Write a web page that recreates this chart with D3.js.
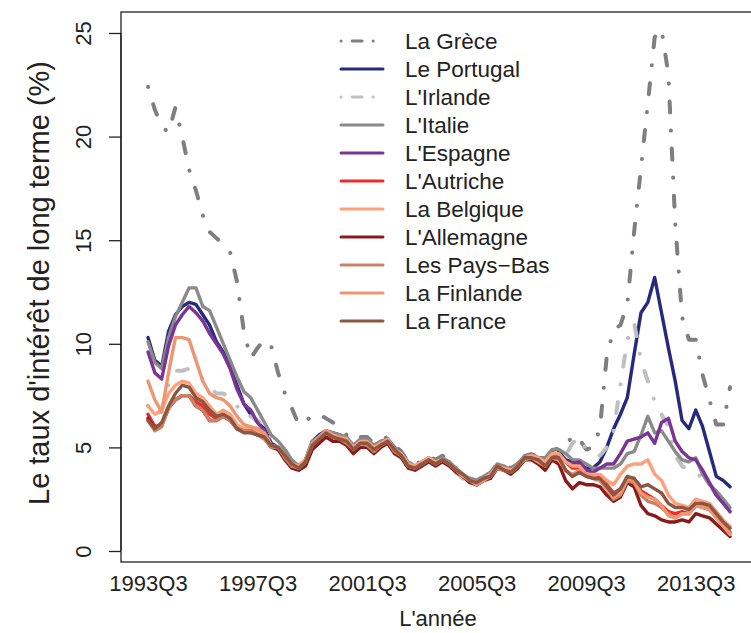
<!DOCTYPE html>
<html><head><meta charset="utf-8">
<script src="https://cdn.jsdelivr.net/npm/d3@7"></script>
<style>
html,body{margin:0;padding:0;background:#fff;}
svg{display:block;font-family:"Liberation Sans",Arial,Helvetica,sans-serif;}
</style>
</head><body>
<svg id="chart" width="751" height="633"></svg>
<script>
// Quarters 1993Q3 .. 2014Q4 (86 points)
const quarters = [];
for (let yr = 1993; yr <= 2014; yr++) for (let q = 1; q <= 4; q++) {
  if (yr === 1993 && q < 3) continue;
  quarters.push(yr + "Q" + q);
}
const xTickLabels = ["1993Q3","1997Q3","2001Q3","2005Q3","2009Q3","2013Q3"];
const yTicks = [0,5,10,15,20,25];

const greece = [22.4,21.3,20.5,20.2,21.4,20.0,18.4,17.4,16.2,15.4,
 15.1,14.8,14.4,13.0,10.6,9.3,9.8,10.2,9.9,8.6,
 7.6,6.9,6.1,6.2,6.6,6.6,6.4,6.2,6.0,5.6,
 5.3,5.5,5.5,5.2,5.4,5.5,5.1,4.8,4.3,4.1,
 4.4,4.6,4.4,4.6,4.4,4.0,3.8,3.5,3.4,3.6,
 3.8,4.2,4.2,4.0,4.2,4.6,4.7,4.5,4.4,4.8,
 5.0,5.0,5.6,5.4,4.9,5.0,5.9,9.4,10.7,10.9,
 11.9,15.4,18.5,21.6,24.8,25.2,23.0,15.8,11.3,10.2,
 10.2,8.5,7.3,6.1,6.1,7.9];
const portugal = [10.3,9.2,8.9,10.6,11.4,11.8,12.0,11.9,11.4,10.9,
 10.1,9.6,8.9,8.0,7.1,6.6,6.2,5.9,5.2,5.0,
 4.7,4.3,4.1,4.4,5.3,5.6,5.8,5.7,5.6,5.4,
 5.1,5.3,5.3,5.0,5.2,5.4,5.0,4.7,4.2,4.0,
 4.3,4.4,4.2,4.4,4.3,3.9,3.6,3.4,3.3,3.5,
 3.6,4.1,4.0,3.9,4.1,4.5,4.6,4.5,4.4,4.7,
 4.8,4.4,4.3,4.2,4.0,4.0,4.3,5.0,5.9,6.6,
 7.4,9.5,11.5,12.0,13.2,11.5,9.8,8.2,6.3,5.9,
 6.8,6.0,4.8,3.6,3.4,3.1];
const ireland = [7.0,6.5,6.8,8.1,8.7,8.7,8.8,8.5,8.3,7.9,
 7.6,7.6,7.4,7.0,6.5,6.5,6.3,6.0,5.3,5.1,
 4.8,4.3,4.0,4.3,5.2,5.4,5.7,5.6,5.5,5.3,
 4.9,5.2,5.2,4.9,5.1,5.3,4.8,4.6,4.1,4.0,
 4.2,4.4,4.2,4.4,4.2,3.8,3.5,3.3,3.2,3.4,
 3.5,4.0,3.9,3.8,4.0,4.4,4.6,4.5,4.4,4.8,
 4.9,4.6,5.2,5.5,4.9,4.8,4.6,5.0,5.8,8.0,
 10.2,11.0,9.2,8.2,7.2,6.6,6.0,4.6,4.1,3.9,
 3.8,3.5,3.2,2.7,2.3,1.9];
const italy = [10.1,9.1,8.8,10.3,11.3,12.0,12.7,12.7,11.8,11.6,
 10.8,10.0,9.2,8.4,7.7,7.4,6.8,6.2,5.6,5.3,
 4.9,4.4,4.1,4.4,5.3,5.5,5.8,5.7,5.6,5.5,
 5.1,5.4,5.4,5.1,5.3,5.4,5.0,4.7,4.3,4.1,
 4.3,4.5,4.3,4.5,4.3,4.0,3.7,3.5,3.4,3.6,
 3.8,4.2,4.1,3.9,4.2,4.6,4.7,4.5,4.5,4.9,
 4.9,4.7,4.4,4.4,4.2,4.0,4.0,4.0,4.0,4.2,
 4.7,4.8,5.6,6.5,5.7,5.8,5.3,4.8,4.4,4.3,
 4.5,3.7,3.2,2.9,2.5,2.1];
const spain = [9.6,8.6,8.3,9.9,10.9,11.4,11.8,11.5,11.1,10.5,
 10.0,9.5,8.8,7.8,7.1,6.8,6.2,5.8,5.1,4.9,
 4.6,4.2,4.0,4.3,5.2,5.4,5.7,5.6,5.5,5.3,
 5.0,5.3,5.3,5.0,5.2,5.4,4.9,4.6,4.1,4.0,
 4.2,4.4,4.2,4.4,4.2,3.9,3.6,3.4,3.2,3.4,
 3.6,4.1,4.0,3.8,4.1,4.5,4.6,4.4,4.2,4.6,
 4.7,4.3,4.2,4.3,3.9,3.8,4.0,4.2,4.2,4.7,
 5.3,5.4,5.5,5.7,5.2,6.2,6.4,5.3,4.8,4.5,
 4.4,3.9,3.3,2.7,2.3,1.9];
const austria = [6.6,6.0,6.1,6.9,7.3,7.5,7.5,7.2,7.0,6.6,
 6.4,6.5,6.4,6.0,5.8,5.8,5.7,5.5,5.0,5.0,
 4.6,4.2,4.0,4.3,5.1,5.4,5.7,5.5,5.5,5.3,
 4.9,5.2,5.2,4.9,5.2,5.3,4.9,4.6,4.1,4.0,
 4.2,4.4,4.2,4.4,4.2,3.9,3.6,3.4,3.2,3.4,
 3.6,4.1,4.0,3.8,4.1,4.5,4.6,4.4,4.2,4.6,
 4.5,4.3,4.0,4.0,3.7,3.6,3.6,3.2,2.8,3.0,
 3.5,3.5,2.9,2.7,2.5,2.2,1.9,1.8,1.9,1.8,
 2.2,2.1,2.0,1.7,1.3,0.9];
const belgium = [7.0,6.6,6.8,7.6,8.0,8.2,8.1,7.6,7.4,7.0,
 6.6,6.8,6.6,6.1,5.9,5.9,5.8,5.6,5.1,5.0,
 4.6,4.2,4.1,4.4,5.2,5.5,5.8,5.6,5.5,5.4,
 5.0,5.3,5.3,5.0,5.2,5.4,4.9,4.7,4.2,4.1,
 4.3,4.5,4.3,4.4,4.2,3.9,3.7,3.4,3.3,3.5,
 3.7,4.1,4.0,3.9,4.1,4.5,4.6,4.5,4.3,4.7,
 4.7,4.3,4.1,4.1,3.7,3.7,3.7,3.4,3.2,3.7,
 4.1,4.2,4.2,4.4,3.7,3.4,2.7,2.3,2.2,2.1,
 2.5,2.4,2.3,1.9,1.5,1.2];
const germany = [6.4,5.9,6.1,6.9,7.3,7.5,7.5,7.0,6.8,6.3,
 6.3,6.5,6.3,5.9,5.8,5.8,5.6,5.5,5.0,4.9,
 4.4,4.0,3.9,4.1,4.9,5.2,5.5,5.3,5.3,5.1,
 4.7,5.0,5.0,4.7,5.0,5.2,4.7,4.5,4.0,3.9,
 4.1,4.3,4.1,4.3,4.1,3.8,3.6,3.3,3.2,3.4,
 3.5,4.0,3.9,3.7,4.0,4.4,4.4,4.2,3.9,4.4,
 4.2,3.4,3.0,3.3,3.2,3.2,3.1,2.7,2.4,2.6,
 3.3,3.1,2.2,1.8,1.7,1.5,1.4,1.4,1.5,1.4,
 1.8,1.7,1.6,1.3,1.0,0.7];
const netherlands = [6.3,5.8,6.0,6.9,7.3,7.5,7.5,7.0,6.8,6.3,
 6.3,6.5,6.3,5.9,5.8,5.8,5.6,5.4,5.0,5.0,
 4.5,4.1,4.0,4.3,5.1,5.4,5.7,5.5,5.4,5.2,
 4.9,5.2,5.1,4.8,5.1,5.3,4.8,4.6,4.1,4.0,
 4.2,4.4,4.2,4.4,4.2,3.9,3.7,3.4,3.3,3.5,
 3.6,4.0,3.9,3.8,4.1,4.4,4.5,4.3,4.1,4.5,
 4.4,3.9,3.6,3.8,3.6,3.5,3.4,3.0,2.5,2.7,
 3.4,3.3,2.7,2.4,2.3,2.1,1.8,1.6,1.8,1.8,
 2.2,2.2,2.0,1.7,1.3,0.9];
const finland = [8.2,7.3,6.7,8.6,10.3,10.3,10.2,9.2,8.2,7.6,
 7.4,7.3,7.0,6.5,6.1,6.0,5.9,5.7,5.1,5.0,
 4.6,4.2,4.0,4.3,5.2,5.5,5.8,5.5,5.5,5.3,
 4.9,5.2,5.2,4.9,5.1,5.3,4.9,4.6,4.1,4.0,
 4.2,4.4,4.2,4.4,4.2,3.9,3.6,3.4,3.2,3.4,
 3.6,4.1,3.9,3.8,4.1,4.5,4.5,4.3,4.1,4.5,
 4.4,3.9,3.7,3.9,3.7,3.6,3.4,3.0,2.6,2.8,
 3.5,3.4,2.8,2.6,2.5,2.2,1.7,1.6,1.8,1.8,
 2.2,2.1,2.0,1.6,1.2,0.8];
const france = [6.3,5.9,6.2,7.0,7.6,8.0,7.9,7.4,7.2,6.8,
 6.5,6.6,6.4,5.9,5.7,5.7,5.6,5.5,5.1,5.0,
 4.6,4.2,4.0,4.3,5.1,5.4,5.7,5.5,5.4,5.3,
 4.9,5.2,5.2,4.9,5.1,5.3,4.9,4.6,4.1,4.0,
 4.2,4.4,4.2,4.4,4.2,3.9,3.7,3.4,3.3,3.5,
 3.6,4.1,3.9,3.8,4.1,4.5,4.5,4.4,4.1,4.5,
 4.5,3.9,3.6,3.8,3.6,3.5,3.5,3.1,2.7,3.0,
 3.6,3.5,3.1,3.2,3.0,2.8,2.3,2.1,2.1,2.0,
 2.3,2.3,2.2,1.8,1.4,1.1];

const countryNames = ["La Grèce","Le Portugal","L'Irlande","L'Italie","L'Espagne","L'Autriche","La Belgique","L'Allemagne","Les Pays\u2212Bas","La Finlande","La France"];
const countryValues = [greece,portugal,ireland,italy,spain,austria,belgium,germany,netherlands,finland,france];
const countryColors = ["#7f7f7f","#262a7c","#bfbfbf","#8a8a8a","#7a3494","#ee2c2c","#ffa07a","#8b1a1a","#cd8162","#ee9572","#8b5742"];
const countryDashed = [true,false,true,false,false,false,false,false,false,false,false];

const svg = d3.select("#chart");
const box = {left:121, top:12, bottom:562, right:753};

const x = d3.scaleLinear().domain([0, quarters.length - 1]).range([148, 730]);
const y = d3.scaleLinear().domain([0, 25]).range([551, 33]);

// plot box
svg.append("rect").attr("x", box.left).attr("y", box.top)
  .attr("width", box.right - box.left).attr("height", box.bottom - box.top)
  .attr("fill", "none").attr("stroke", "#222").attr("stroke-width", 1.3);

// y axis
const yAxis = d3.axisLeft(y).tickValues(yTicks).tickSize(12).tickPadding(0).tickFormat(d3.format("d"));
const gy = svg.append("g").attr("transform", `translate(${box.left},0)`).call(yAxis);
gy.select(".domain").attr("d", `M0,${y(0)}V${y(25)}`).attr("stroke", "#222").attr("stroke-width", 1.3);
gy.selectAll(".tick line").attr("stroke", "#222").attr("stroke-width", 1.3);
gy.selectAll(".tick text")
  .attr("x", null).attr("dy", null)
  .attr("transform", "translate(-30,0) rotate(-90)")
  .attr("text-anchor", "middle")
  .attr("fill", "#222")
  .style("font-size", "22px");

// x axis labels
const xTickIdx = xTickLabels.map(l => quarters.indexOf(l));
const xAxis = d3.axisBottom(x).tickValues(xTickIdx).tickSize(0).tickPadding(0)
  .tickFormat(i => quarters[i]);
const gx = svg.append("g").attr("transform", `translate(0,${box.bottom})`).call(xAxis);
gx.select(".domain").remove();
gx.selectAll(".tick text").attr("y", 29).attr("dy", null).attr("fill", "#222").style("font-size", "22px");

// axis titles
svg.append("text").attr("x", 438).attr("y", 626).attr("text-anchor", "middle")
  .attr("fill", "#222").style("font-size", "22px").text("L'année");
svg.append("text").attr("transform", "translate(49,283) rotate(-90)").attr("text-anchor", "middle")
  .attr("fill", "#222").style("font-size", "29px").text("Le taux d'intérêt de long terme (%)");

// lines
const line = d3.line().x((d, i) => x(i)).y(d => y(d));
const gLines = svg.append("g");
countryValues.forEach((vals, k) => {
  gLines.append("path").datum(vals)
    .attr("d", line)
    .attr("fill", "none")
    .attr("stroke", countryColors[k])
    .attr("stroke-width", countryDashed[k] ? 4 : 3.4)
    .attr("stroke-linejoin", "round")
    .attr("stroke-linecap", "round")
    .attr("stroke-dasharray", countryDashed[k] ? "0.1,18,11,18" : null);
});

// legend
const lg = svg.append("g");
countryNames.forEach((name, k) => {
  const cy = 41 + 28 * k;
  lg.append("line").attr("x1", 341).attr("x2", 383).attr("y1", cy).attr("y2", cy)
    .attr("stroke", countryColors[k]).attr("stroke-width", 3)
    .attr("stroke-linecap", "round")
    .attr("stroke-dasharray", countryDashed[k] ? "0.1,11,10,11" : null);
  lg.append("text").attr("x", 405).attr("y", cy + 8).attr("fill", "#222")
    .style("font-size", "22.5px").text(name);
});
</script>
</body></html>
